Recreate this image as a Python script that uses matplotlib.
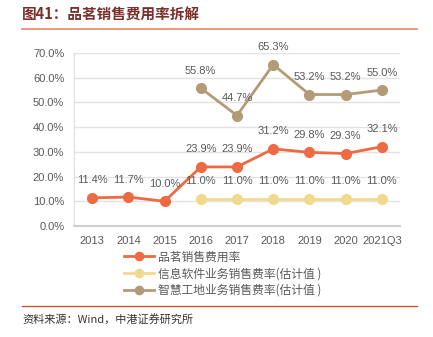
import numpy as np
import matplotlib.pyplot as plt

plt.rcParams['font.family'] = ['Liberation Sans', 'Noto Sans CJK SC']

years = ['2013', '2014', '2015', '2016', '2017', '2018', '2019', '2020', '2021Q3']
pinming = [11.4, 11.7, 10.0, 23.9, 23.9, 31.2, 29.8, 29.3, 32.1]
xinxi = [None, None, None, 11.0, 11.0, 11.0, 11.0, 11.0, 11.0]
zhihui = [None, None, None, 55.8, 44.7, 65.3, 53.2, 53.2, 55.0]
names = ['品茗销售费用率', '信息软件业务销售费率(估计值 )', '智慧工地业务销售费率(估计值 )']
colors = ['#ee6a43', '#f1da8c', '#b39b78']

fig = plt.figure(figsize=(4.33, 3.37), dpi=100)
ax = fig.add_axes([74/433, 1-226/337, 326/433, 173/337])

x = np.arange(len(years))
for vals, name, c in zip([pinming, xinxi, zhihui], names, colors):
    xs = [i for i, v in zip(x, vals) if v is not None]
    ys = [v for v in vals if v is not None]
    ax.plot(xs, ys, color=c, lw=2, marker='o', ms=7, label=name, zorder=3)
    for xi, yi in zip(xs, ys):
        ax.annotate('%.1f%%' % yi, (xi, yi), xytext=(0, 9), textcoords='offset points',
                    ha='center', va='bottom', fontsize=8, color='#595959')

ax.set_xlim(-0.5, len(years) - 0.5)
ax.set_ylim(0, 70)
ax.set_yticks(np.arange(0, 71, 10))
ax.set_yticklabels(['%.1f%%' % v for v in np.arange(0, 71, 10)])
ax.set_xticks(x)
ax.set_xticklabels(years)
ax.tick_params(length=0, labelsize=8, labelcolor='#595959', pad=7)
ax.grid(axis='y', color='#e3e3e3', lw=1)
ax.set_axisbelow(True)
for s in ['top', 'right']:
    ax.spines[s].set_visible(False)
ax.spines['left'].set_color('#dddddd')
ax.spines['bottom'].set_color('#d0d0d0')
ax.spines['bottom'].set_linewidth(1.5)

leg = ax.legend(loc='upper left', bbox_to_anchor=(45/326, -0.115), frameon=False,
                prop={'family': ['Noto Sans CJK SC'], 'size': 8.5}, handlelength=2.6,
                handletextpad=0.3, labelspacing=0.3, borderaxespad=0, markerscale=0.85)
for t in leg.get_texts():
    t.set_color('#595959')

fig.text(22/433, 1-15/337, '图41：品茗销售费用率拆解', fontsize=10.5, color='#7a2f2a',
         fontweight='bold', va='center', family=['Noto Sans CJK SC'])
fig.add_artist(plt.Line2D([22/433, 417/433], [1-29/337, 1-29/337], color='#e3876a', lw=1.2))
fig.add_artist(plt.Line2D([22/433, 417/433], [1-306/337, 1-306/337], color='#c8553a', lw=1))
fig.text(22/433, 1-319/337, '资料来源：Wind，中港证券研究所', fontsize=8, color='#333333',
         style='italic', va='center', family=['Noto Sans CJK SC'])

fig.savefig('out.png', dpi=100)
